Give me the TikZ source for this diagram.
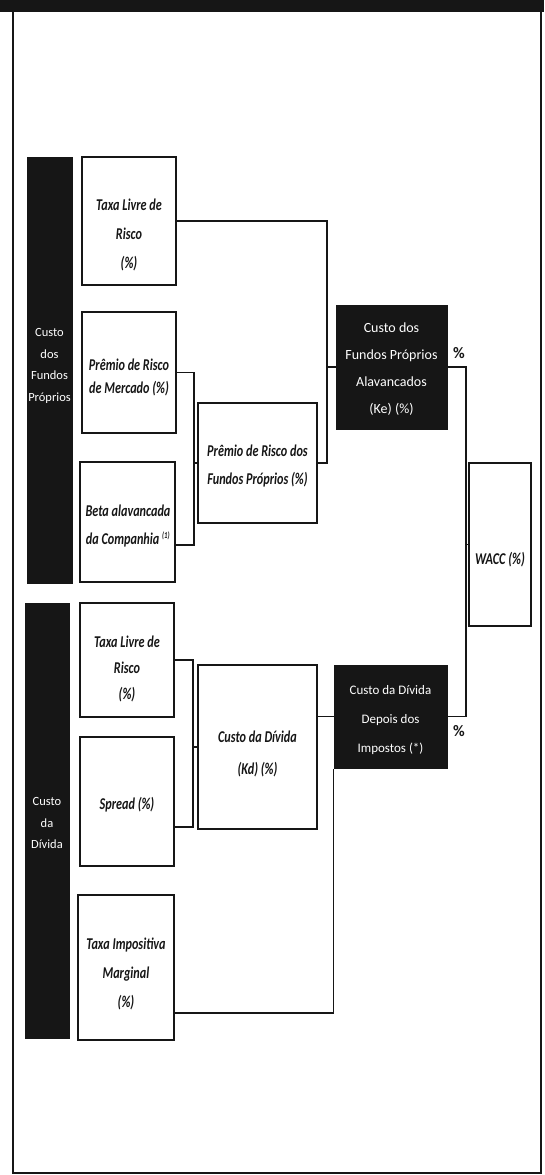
\documentclass[tikz,border=0pt]{standalone}
\usepackage{fontspec}
\setmainfont{Carlito}
\newfontfamily\condfont{Carlito}[FakeStretch=0.74]
\newfontfamily\darkfont{Carlito}
\definecolor{ink}{HTML}{161616}
\begin{document}
\begin{tikzpicture}[x=1pt,y=-1pt,
  wbox/.style={draw=ink,line width=2.1pt,fill=white,inner sep=0pt},
  dbox/.style={draw=ink,line width=1pt,fill=ink,inner sep=0pt},
  wtext/.style={align=center,text=ink,inner sep=0pt,font=\condfont\fontsize{16.5}{29}\selectfont\bfseries\itshape},
  dtext/.style={align=center,text=white,inner sep=0pt,font=\darkfont\fontsize{14}{28}\selectfont},
  bartext/.style={align=center,text=white,inner sep=0pt,font=\darkfont\fontsize{12.5}{21.5}\selectfont},
  conn/.style={draw=ink,line width=1.6pt},
  pct/.style={text=ink,inner sep=0pt,font=\darkfont\fontsize{16}{18}\selectfont\bfseries}
]
\useasboundingbox (0,0) rectangle (544,1175);
% top bar and frame
\fill[ink] (0,0) rectangle (544,12);
\draw[ink,line width=1.6pt] (13,12) -- (13,1173) -- (541,1173) -- (541,12);

% helper: boxes by corners
\newcommand{\bx}[6]{\node[#6,minimum width={#4-#2},minimum height={#5-#3}] (#1) at ({(#2+#4)/2},{(#3+#5)/2}) {};}

% side bars
\bx{fpbar}{27}{157}{72}{583}{dbox}
\bx{dvbar}{25}{603}{69}{1038}{dbox}
\node[bartext] (fpbart) at (49.5,366) {Custo\\dos\\Fundos\\Próprios};
\node[bartext] (dvbart) at (47,823) {Custo\\da\\Dívida};

% column 1
\bx{tla}{82}{157}{176}{285}{wbox}
\bx{pm}{82}{312}{176}{433}{wbox}
\bx{beta}{80}{462}{175}{582}{wbox}
\bx{tlb}{80}{603}{174}{717}{wbox}
\bx{sp}{80}{737}{174}{866}{wbox}
\bx{ti}{78}{895}{174}{1040}{wbox}
% column 2
\bx{prf}{198}{403}{317}{523}{wbox}
\bx{kd}{198}{665}{317}{829}{wbox}
% column 3
\bx{ke}{336}{305}{447}{429}{dbox}
\bx{kdt}{334}{665}{447}{768}{dbox}
% column 4
\bx{wacc}{469}{463}{531}{626}{wbox}

% texts
\node[wtext] (tlat) at (129,235) {Taxa Livre de\\Risco\\(\%)};
\node[wtext,font=\condfont\fontsize{16.5}{23}\selectfont\bfseries\itshape] (pmt) at (129,377) {Prêmio de Risco\\de Mercado (\%)};
\node[wtext,font=\condfont\fontsize{16.5}{28}\selectfont\bfseries\itshape] (betat) at (128,526) {Beta alavancada\\da Companhia\,\textsuperscript{\fontsize{9}{9}\selectfont(1)}};
\node[wtext,font=\condfont\fontsize{16.5}{26}\selectfont\bfseries\itshape] (tlbt) at (127,669) {Taxa Livre de\\Risco\\(\%)};
\node[wtext] (spt) at (127,805) {Spread (\%)};
\node[wtext] (tit) at (126,974) {Taxa Impositiva\\Marginal\\(\%)};
\node[wtext,font=\condfont\fontsize{16.5}{28}\selectfont\bfseries\itshape] (prft) at (257.5,466) {Prêmio de Risco dos\\Fundos Próprios (\%)};
\node[wtext,font=\condfont\fontsize{16.5}{32}\selectfont\bfseries\itshape] (kdtx) at (257.5,754) {Custo da Dívida\\(Kd) (\%)};
\node[dtext,font=\darkfont\fontsize{14}{27}\selectfont] (ket) at (391.5,369) {Custo dos\\Fundos Próprios\\Alavancados\\(Ke) (\%)};
\node[dtext,font=\darkfont\fontsize{13}{29}\selectfont] (kdtt) at (390.5,720) {Custo da Dívida\\Depois dos\\Impostos (*)};
\node[wtext] (wacct) at (500,560) {WACC (\%)};

% junctions
\coordinate (j1) at (327,367);
\coordinate (j2) at (194,463);
\coordinate (j3) at (193,747);
\coordinate (j4) at (466,544.5);

% connectors: equity
\draw[conn] (tla.east) -| (j1) |- (prf.east);
\draw[conn] (j1) -- (ke.west);
\draw[conn] (pm.east) -| (j2) |- ([yshift=-23pt]beta.east);
\draw[conn] (j2) -- (prf.west);
% connectors: debt
\draw[conn] (tlb.east) -| (j3) |- ([yshift=-25.5pt]sp.east);
\draw[conn] (j3) -- (kd.west);
\draw[conn] (kdt.west -| kd.east) -- (kdt.west);
\draw[conn] ([yshift=-45.5pt]ti.east) -| (kdt.south west);
% connectors: WACC
\draw[conn] (ke.east) -| (j4) |- (kdt.east);
\draw[conn] (j4) -- (wacc.west);

\node[pct] (pcta) at (459,353) {\%};
\node[pct] (pctb) at (459,731) {\%};
\end{tikzpicture}
\end{document}
